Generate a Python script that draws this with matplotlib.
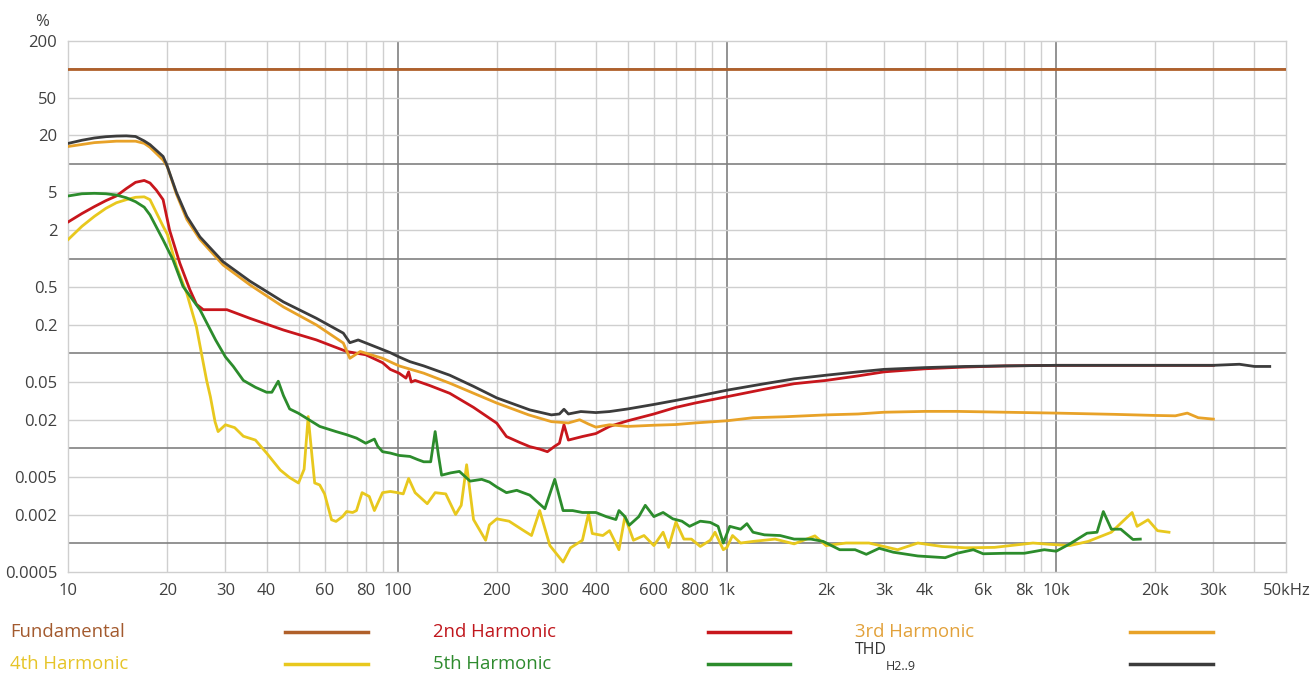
import matplotlib
matplotlib.use("Agg")
import matplotlib.pyplot as plt
from matplotlib.lines import Line2D

plt.rcParams['font.family'] = ['Open Sans', 'DejaVu Sans']

# ---- data (frequency in Hz, level in %) ----
fund_f = [10, 50000]
fund_v = [100, 100]

thd_f = [10, 11, 12, 13, 14, 15, 16, 17, 17.7, 19.4, 19.9, 21.3, 22.9, 25.1, 29.5, 35.6, 45, 56.7,
         68.4, 71.6, 75.9, 90.6, 95, 101, 109, 120, 144, 170, 200, 252, 293, 310, 320, 330, 360,
         400, 440, 500, 600, 700, 800, 1000, 1300, 1600, 2000, 2500, 3000, 4000, 5300, 7000,
         10000, 15000, 20000, 25000, 30000, 36000, 40000, 44500]
thd_v = [16.5, 17.8, 18.8, 19.4, 19.7, 19.8, 19.5, 17.5, 16, 12, 9.8, 5.0, 2.8, 1.7, 0.93, 0.58,
         0.35, 0.235, 0.164, 0.13, 0.139, 0.109, 0.102, 0.092, 0.082, 0.074, 0.059, 0.045, 0.034,
         0.0254, 0.0225, 0.023, 0.0258, 0.023, 0.0244, 0.0238, 0.0244, 0.026, 0.029, 0.032, 0.035,
         0.041, 0.048, 0.054, 0.059, 0.064, 0.068, 0.071, 0.073, 0.074, 0.075, 0.075, 0.075, 0.075,
         0.075, 0.077, 0.073, 0.073]

h2_f = [10, 11, 12, 13, 14, 15, 16, 17, 17.7, 18.5, 19.4, 20.3, 21.8, 23.4, 24.5, 25.7, 28, 30.3,
        35.6, 45, 56.7, 70, 80, 90, 95, 101, 106, 108, 110, 113, 125, 144, 170, 200, 214, 235, 252,
        270, 285, 300, 310, 320, 330, 364, 400, 440, 500, 600, 700, 800, 1000, 1300, 1600, 2000,
        2500, 3000, 4000, 5300, 7000, 10000, 15000, 20000, 30000]
h2_v = [2.45, 3.0, 3.55, 4.1, 4.6, 5.5, 6.4, 6.7, 6.3, 5.3, 4.2, 2.0, 0.9, 0.47, 0.33, 0.29, 0.29,
        0.29, 0.235, 0.177, 0.139, 0.105, 0.097, 0.08, 0.068, 0.062, 0.055, 0.064, 0.05, 0.052,
        0.046, 0.038, 0.027, 0.0184, 0.0133, 0.0115, 0.0104, 0.0098, 0.0092, 0.0105, 0.0113, 0.0177,
        0.0122, 0.0133, 0.0143, 0.017, 0.0195, 0.023, 0.027, 0.03, 0.035, 0.042, 0.048, 0.052,
        0.058, 0.064, 0.069, 0.072, 0.074, 0.075, 0.075, 0.075, 0.075]

h3_f = [10, 12, 14, 16, 17, 17.7, 19.4, 20, 21.3, 22.9, 25.1, 29.5, 35.6, 45, 56.7, 68.4, 71.6, 77,
        90, 101, 120, 144, 200, 250, 293, 330, 357, 380, 400, 440, 500, 600, 700, 800, 1000, 1200,
        1500, 2000, 2500, 3000, 4000, 5000, 7000, 10000, 15000, 20000, 23000, 25000, 27000, 30000]
h3_v = [15.3, 16.8, 17.4, 17.4, 16.5, 15, 11, 9.3, 4.8, 2.6, 1.6, 0.86, 0.53, 0.31, 0.2, 0.129,
        0.089, 0.105, 0.089, 0.074, 0.062, 0.0486, 0.030, 0.0225, 0.0191, 0.0185, 0.02, 0.018,
        0.0167, 0.0177, 0.017, 0.0175, 0.0178, 0.0185, 0.0195, 0.021, 0.0215, 0.0225, 0.023, 0.024,
        0.0245, 0.0245, 0.024, 0.0235, 0.0228, 0.0222, 0.022, 0.0235, 0.021, 0.0203]

h4_f = [10, 11, 12, 13, 14, 15, 16, 17, 17.7, 19.4, 20, 21.3, 22.9, 24.5, 25.7, 26.3, 27, 27.9,
        28.5, 30, 32, 34, 37, 40, 44, 47, 50, 52, 53.5, 55, 56, 58, 60, 63, 65, 68, 70, 73, 75, 78,
        82, 85, 90, 95, 100, 104, 108, 113, 123, 130, 140, 150, 156, 162, 170, 185, 190, 200, 218,
        240, 255, 270, 290, 318, 335, 364, 380, 390, 420, 440, 470, 490, 520, 560, 600, 640, 665,
        700, 740, 780, 830, 890, 920, 975, 1000, 1040, 1100, 1200, 1400, 1600, 1850, 2000, 2300,
        2700, 3300, 3800, 4500, 5300, 6500, 8500, 9500, 11000, 12500, 14700, 17000, 17600, 19000,
        20300, 22000]
h4_v = [1.6, 2.2, 2.8, 3.4, 3.9, 4.2, 4.45, 4.5, 4.2, 2.2, 1.8, 0.83, 0.43, 0.19, 0.079, 0.052,
        0.035, 0.019, 0.015, 0.0177, 0.0165, 0.0134, 0.0122, 0.0089, 0.0059, 0.0049, 0.0043, 0.006,
        0.0216, 0.008, 0.0043, 0.0041, 0.0033, 0.00176, 0.00169, 0.0019, 0.00215, 0.0021, 0.0022,
        0.0034, 0.0031, 0.0022, 0.0034, 0.0035, 0.0034, 0.0033, 0.0048, 0.0034, 0.0026, 0.0034,
        0.0033, 0.002, 0.0025, 0.0067, 0.00177, 0.00107, 0.00155, 0.0018, 0.0017, 0.00137, 0.0012,
        0.0022, 0.00094, 0.00063, 0.00089, 0.00107, 0.00205, 0.00126, 0.0012, 0.00135, 0.00085,
        0.0019, 0.00107, 0.0012, 0.00094, 0.0013, 0.0009, 0.00167, 0.0011, 0.0011, 0.00092, 0.00107,
        0.0013, 0.00085, 0.0009, 0.0012, 0.001, 0.00104, 0.0011, 0.00098, 0.00119, 0.00094, 0.001,
        0.001, 0.00085, 0.001, 0.00092, 0.00089, 0.0009, 0.001, 0.00097, 0.00094, 0.00104, 0.0013,
        0.0021, 0.0015, 0.00176, 0.00135, 0.0013]

h5_f = [10, 11, 12, 13, 14, 15, 16, 17, 17.7, 19.4, 20.8, 22.3, 23.0, 25.1, 28, 30, 31.7, 34, 37,
        40, 41.5, 43.4, 45, 47, 50, 58, 65, 70, 75, 80, 85, 87, 90, 95, 101, 109, 115, 120, 126,
        130, 133, 136, 145, 154, 166, 180, 190, 200, 214, 230, 252, 280, 300, 318, 340, 364, 400,
        430, 460, 470, 490, 505, 540, 565, 600, 640, 685, 730, 770, 830, 890, 940, 975, 1020, 1100,
        1150, 1200, 1300, 1450, 1600, 1800, 1960, 2200, 2450, 2650, 2900, 3200, 3800, 4600, 5000,
        5600, 6000, 7000, 8000, 9200, 10000, 11000, 12400, 13300, 13900, 14700, 15700, 17100, 18000]
h5_v = [4.6, 4.85, 4.9, 4.85, 4.7, 4.4, 4.0, 3.5, 2.9, 1.58, 0.97, 0.51, 0.44, 0.29, 0.139, 0.092,
        0.073, 0.052, 0.044, 0.039, 0.039, 0.051, 0.036, 0.026, 0.0234, 0.017, 0.015, 0.0139,
        0.0128, 0.0113, 0.0125, 0.0105, 0.0092, 0.0089, 0.0084, 0.0082, 0.0076, 0.0072, 0.0072,
        0.015, 0.0085, 0.0052, 0.0055, 0.0057, 0.0045, 0.0047, 0.0044, 0.0039, 0.0034, 0.0036,
        0.0032, 0.0023, 0.0047, 0.0022, 0.0022, 0.0021, 0.0021, 0.0019, 0.00177, 0.0022, 0.0019,
        0.00154, 0.0019, 0.0025, 0.0019, 0.0021, 0.0018, 0.0017, 0.0015, 0.0017, 0.00165, 0.0015,
        0.001, 0.0015, 0.0014, 0.0016, 0.0013, 0.00122, 0.0012, 0.0011, 0.0011, 0.00104, 0.00085,
        0.00085, 0.00076, 0.00088, 0.0008, 0.00073, 0.0007, 0.00078, 0.00085, 0.00077, 0.00078,
        0.00078, 0.00085, 0.00082, 0.00098, 0.00127, 0.0013, 0.00215, 0.0014, 0.0014, 0.00109,
        0.0011]

xticks = [10, 20, 30, 40, 60, 80, 100, 200, 300, 400, 600, 800, 1000, 2000, 3000, 4000, 6000,
          8000, 10000, 20000, 30000, 50000]
xlabels = ['10', '20', '30', '40', '60', '80', '100', '200', '300', '400', '600', '800', '1k',
           '2k', '3k', '4k', '6k', '8k', '10k', '20k', '30k', '50kHz']
yticks = [0.0005, 0.002, 0.005, 0.02, 0.05, 0.2, 0.5, 2, 5, 20, 50, 200]
ylabels = ['0.0005', '0.002', '0.005', '0.02', '0.05', '0.2', '0.5', '2', '5', '20', '50', '200']

series = [
    ('Fundamental', fund_f, fund_v, '#b0602a', '#a35a2e'),
    ('2nd Harmonic', h2_f, h2_v, '#c8161c', '#c0161c'),
    ('3rd Harmonic', h3_f, h3_v, '#e8a228', '#e2a13a'),
    ('4th Harmonic', h4_f, h4_v, '#e8c81e', '#e6c428'),
    ('5th Harmonic', h5_f, h5_v, '#2c8c2c', '#2e8b2e'),
    ('THD', thd_f, thd_v, '#3c3c3c', '#333333'),
]

fig = plt.figure(figsize=(13.14, 6.78), dpi=100)
ax = fig.add_axes([0.052, 0.157, 0.927, 0.783])
ax.set_xscale('log')
ax.set_yscale('log')
ax.set_xlim(10, 50000)
ax.set_ylim(0.0005, 200)

# grid: light lines at 2..9 (x) and 2, 5 (y), darker at decades
for dec in [10, 100, 1000, 10000]:
    for m in range(1, 10):
        x = dec * m
        if 10 < x < 50000:
            dark = m == 1
            ax.axvline(x, color='#808080' if dark else '#cfcfcf', lw=1.2 if dark else 1.0, zorder=0)
for dec in [0.0001, 0.001, 0.01, 0.1, 1, 10, 100]:
    for m in [1, 2, 5]:
        y = dec * m
        if 0.0005 < y < 200:
            dark = m == 1
            ax.axhline(y, color='#808080' if dark else '#cfcfcf', lw=1.2 if dark else 1.0, zorder=0)

for name, f, v, c, tc in series:
    ax.plot(f, v, color=c, lw=2.0, zorder=3)

ax.set_xticks(xticks)
ax.set_xticklabels(xlabels)
ax.set_yticks(yticks)
ax.set_yticklabels(ylabels)
ax.minorticks_off()
ax.tick_params(length=0, labelsize=12, labelcolor='#404040', pad=8)
for s in ax.spines.values():
    s.set_color('#cfcfcf')
    s.set_linewidth(1.0)

fig.text(0.032, 0.968, '%', fontsize=12, color='#404040', ha='center', va='center')

# legend below the plot
text_x = [0.0076, 0.3295, 0.6507]
sw_x = [(0.2169, 0.2801), (0.5388, 0.6012), (0.860, 0.923)]
rows_y = [0.068, 0.021]
for i, (name, f, v, c, tc) in enumerate(series):
    r, col = divmod(i, 3)
    y = rows_y[r]
    if name == 'THD':
        fig.text(text_x[col], y + 0.020, name, fontsize=11.5, color=tc, ha='left', va='center')
        fig.text(text_x[col] + 0.0235, y - 0.004, 'H2..9', fontsize=9, color=tc,
                 ha='left', va='center')
    else:
        fig.text(text_x[col], y, name, fontsize=13.3, color=tc, ha='left', va='center')
    fig.add_artist(Line2D(sw_x[col], [y, y], color=c, lw=2.5, transform=fig.transFigure))

fig.savefig('out.png', dpi=100, facecolor='white')
